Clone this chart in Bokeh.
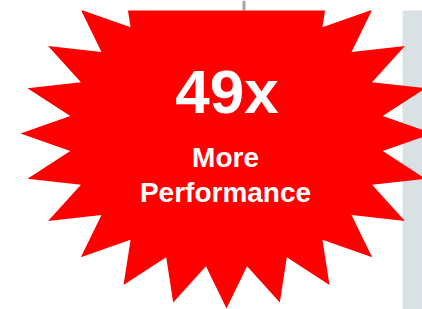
import numpy as np
from bokeh.plotting import figure
from bokeh.models import Range1d
from bokeh.core.properties import value
from bokeh.embed import file_html
from bokeh.resources import INLINE

# Content
headline = ["49x"]
sublines = ["More", "Performance"]

# Starburst shape parameters (24 spikes, elliptical), cut off at the top
n_spikes = 24
star_cx, star_cy = 226, 133
star_rx, star_ry = 206, 175
inner_ratio = 0.765
clip_top = 10

p = figure(width=422, height=309, output_backend="svg", toolbar_location=None,
           x_range=Range1d(0, 422), y_range=Range1d(309, 0), min_border=0)
p.axis.visible = False
p.grid.visible = False
p.outline_line_color = None
p.background_fill_color = "white"
p.border_fill_color = "white"

# light grey panel on the right
p.quad(left=[402], right=[422], top=[clip_top], bottom=[309], fill_color="#dae1e4", line_color=None)

# grey line at the top
p.quad(left=[242], right=[245], top=[0], bottom=[clip_top], fill_color="#a6a6a6", line_color=None)

# starburst
ang = np.deg2rad(np.arange(2 * n_spikes) * (180.0 / n_spikes))
rad = np.where(np.arange(2 * n_spikes) % 2 == 0, 1.0, inner_ratio)
sx = star_cx + star_rx * rad * np.cos(ang)
sy = star_cy + star_ry * rad * np.sin(ang)


def clip_below(xs, ys, ymin):
    out_x, out_y = [], []
    n = len(xs)
    for i in range(n):
        x1, y1 = xs[i], ys[i]
        x2, y2 = xs[(i + 1) % n], ys[(i + 1) % n]
        in1, in2 = y1 >= ymin, y2 >= ymin
        if in1:
            out_x.append(x1); out_y.append(y1)
        if in1 != in2:
            t = (ymin - y1) / (y2 - y1)
            out_x.append(x1 + t * (x2 - x1)); out_y.append(ymin)
    return out_x, out_y


cx_, cy_ = clip_below(sx, sy, clip_top)
p.patch(cx_, cy_, fill_color="#ff0000", line_color=None)

p.text(x=[226.5], y=[91], text=headline, text_color="white", text_font=value("Liberation Sans"),
       text_font_style="bold", text_font_size="62px", text_align="center", text_baseline="alphabetic")
p.text(x=[225, 225], y=[157, 192], text=sublines, text_color="white", text_font=value("Liberation Sans"),
       text_font_style="bold", text_font_size="28px", text_align="center", text_baseline="alphabetic")

open("out.html", "w").write(file_html(p, INLINE))
